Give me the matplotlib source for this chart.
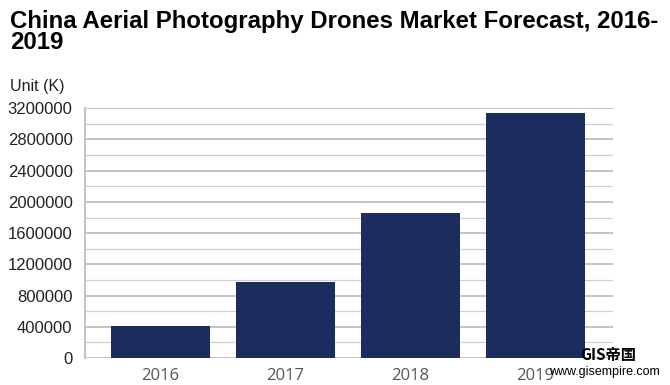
import matplotlib.pyplot as plt
import numpy as np

years = ["2016", "2017", "2018", "2019"]
units = [405000, 975000, 1860000, 3140000]
y_ticks = np.arange(0, 3200001, 400000)
y_minor = np.arange(0, 3200001, 200000)

plt.rcParams['font.family'] = ['Liberation Sans', 'DejaVu Sans']

fig = plt.figure(figsize=(6.7, 3.85), dpi=100)
ax = fig.add_axes([0.127, 0.070, 0.788, 0.649])

x = np.arange(len(years))
ax.bar(x, units, width=0.79, color="#1d2c5f", zorder=3)

ax.set_xlim(-0.6, 3.62)
ax.set_ylim(0, 3200000)
ax.set_yticks(y_ticks)
ax.set_yticklabels([str(v) for v in y_ticks])
ax.set_yticks(y_minor, minor=True)
ax.set_xticks(x)
ax.set_xticklabels(years, family=["Open Sans", "DejaVu Sans"])

ax.grid(axis="y", which="major", color="#c4c4c4", linewidth=1.4, zorder=0)
ax.grid(axis="y", which="minor", color="#d0d0d0", linewidth=0.9, zorder=0)
ax.tick_params(axis="both", which="both", length=0)
ax.tick_params(axis="y", labelsize=12, pad=9, colors="#222222")
ax.tick_params(axis="x", labelsize=12, pad=7, colors="#555555")
for s in ["top", "right", "bottom"]:
    ax.spines[s].set_visible(False)
ax.spines["left"].set_color("#c4c4c4")
ax.spines["left"].set_linewidth(1.5)

fig.text(0.015, 0.975, "China Aerial Photography Drones Market Forecast, 2016-\n2019",
         fontsize=17.3, fontweight="bold", va="top", ha="left", linespacing=0.92)
fig.text(0.015, 0.775, "Unit (K)", fontsize=11.5, va="center", ha="left", color="#222222")

# watermark
fig.text(0.866, 0.078, "GIS帝国", fontsize=11, fontweight="bold", va="center", ha="left",
         family=["Noto Sans CJK SC", "DejaVu Sans"])
fig.text(0.985, 0.034, "www.gisempire.com", fontsize=9, va="center", ha="right")

fig.savefig("out.png", dpi=100)
